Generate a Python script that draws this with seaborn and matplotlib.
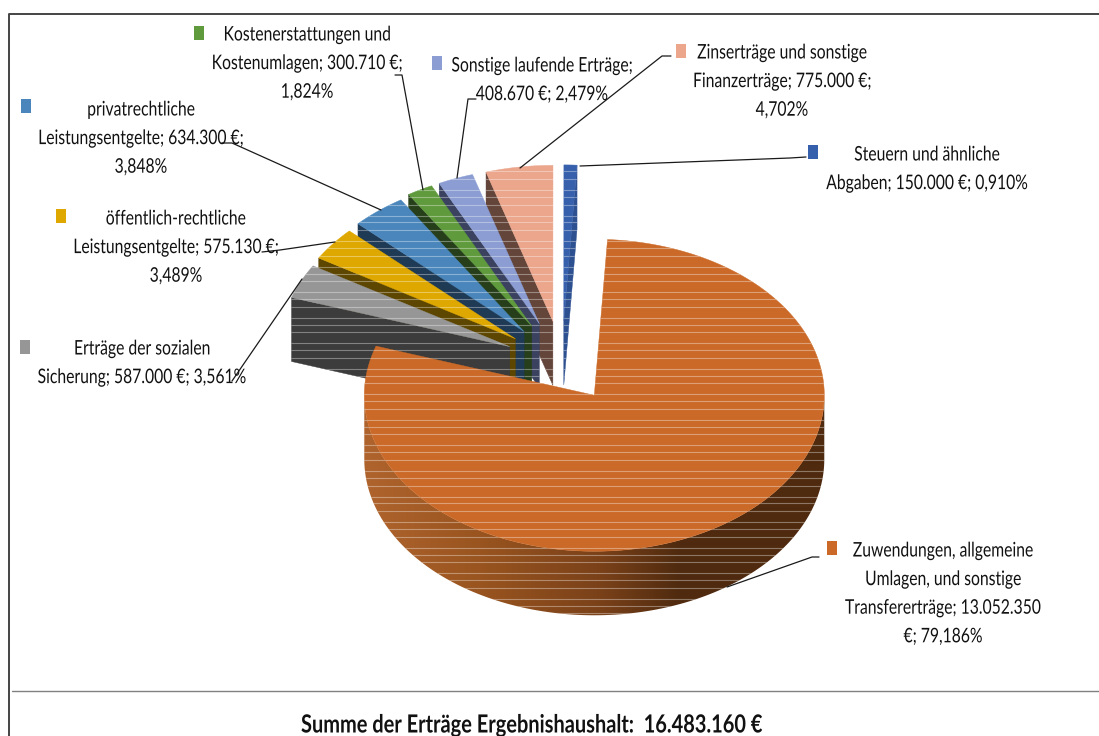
import numpy as np
import pandas as pd
import matplotlib
matplotlib.use("Agg")
import matplotlib.pyplot as plt
from matplotlib.patches import Polygon
from matplotlib.colors import to_rgb
from matplotlib.patheffects import AbstractPathEffect
from matplotlib.transforms import Affine2D
import seaborn as sns

# ---- data (clockwise from the big slice, as in the chart) ----
names = ["Zuwendungen", "Soziale Sicherung", "Oeffentlich-rechtlich", "Privatrechtlich",
         "Kostenerstattungen", "Sonstige", "Zinsertraege", "Steuern"]
values = [13052350, 587000, 575130, 634300, 300710, 408670, 775000, 150000]
top_colors = ["#CB6A28", "#969696", "#DFA800", "#4A86BC", "#5F9A3D", "#8B9DD3", "#EBA68C", "#3660AC"]
side_colors = ["#7a4119", "#3c3c3c", "#5d4600", "#1f3a55", "#263f1a", "#3a4260", "#63453a", "#2d5090"]
explode = [0.25, 0.25, 0.255, 0.26, 0.27, 0.27, 0.27, 0.27]

label_lines = [
    ["Zuwendungen, allgemeine", "Umlagen, und sonstige", "Transfererträge; 13.052.350", "€; 79,186%"],
    ["Erträge der sozialen", "Sicherung; 587.000 €; 3,561%"],
    ["öffentlich-rechtliche", "Leistungsentgelte; 575.130 €;", "3,489%"],
    ["privatrechtliche", "Leistungsentgelte; 634.300 €;", "3,848%"],
    ["Kostenerstattungen und", "Kostenumlagen; 300.710 €;", "1,824%"],
    ["Sonstige laufende Erträge;", "408.670 €; 2,479%"],
    ["Zinserträge und sonstige", "Finanzerträge; 775.000 €;", "4,702%"],
    ["Steuern und ähnliche", "Abgaben; 150.000 €; 0,910%"],
]
title_text = "Summe der Erträge Ergebnishaushalt:  16.483.160 €"

# ---- layout (pixel-based axes) ----
W, H = 1099, 736
cx, cy, rx, ry, depth = 562.0, 363.0, 230.0, 156.0, 64.0
first_angle = 3.3
label_center = [943, 142, 176, 141, 307, 542, 782, 927]
label_top = [551, 349, 219, 110, 35, 66, 53, 155]
line_step = 28.6
key_pos = [(832, 548), (25, 347), (61, 216), (26, 106), (199, 33), (437, 63), (681, 51), (813, 152)]
leaders = [
    [(819, 557), (812, 557), (727, 587)],
    [(232, 381), (302, 279)],
    [(262, 252), (280, 250), (335, 242)],
    [(222, 143), (232, 143), (381, 210)],
    [(395, 75), (402, 75), (423, 190)],
    [(476, 99), (468, 99), (457, 178)],
    [(671, 56), (662, 56), (520, 168)],
    [(806, 157), (790, 158), (580, 166)],
]
wall_x = [363, 480, 600, 680, 825]
wall_c = ["#b0642d", "#99541f", "#7a4119", "#4f2a0f", "#4f2a0f"]
key_shape = [(-0.36, -0.5), (0.36, -0.5), (0.36, 0.5), (-0.36, 0.5)]


class Squeeze(AbstractPathEffect):
    """Narrows a text horizontally about its own middle (the source font is condensed)."""

    def __init__(self, factor):
        super().__init__()
        self.factor = factor

    def draw_path(self, renderer, gc, tpath, affine, rgbFace=None):
        ext = tpath.get_extents()
        mid = (ext.x0 + ext.x1) / 2
        squeeze = Affine2D().translate(-mid, 0).scale(self.factor, 1).translate(mid, 0)
        renderer.draw_path(gc, tpath, squeeze + affine, rgbFace)


sns.set_theme(style="white")
plt.rcParams["font.family"] = ["Lato", "DejaVu Sans"]
fig = plt.figure(figsize=(W / 100, H / 100), dpi=100)
ax = fig.add_axes([0, 0, 1, 1])
ax.set_xlim(0, W)
ax.set_ylim(H, 0)
ax.set_axis_off()

stripe_y = np.sort(np.concatenate([np.arange(16.0, 640, 25.55) + o for o in (2.0, 9.7, 20.7)]))


def stripes(patch):
    lines = ax.hlines(stripe_y, 0, W, colors="white", alpha=0.36, lw=0.8, zorder=patch.get_zorder() + 0.01)
    lines.set_clip_path(patch)


def add_poly(pts, color, z, lw=0.3):
    p = Polygon(pts, closed=True, facecolor=color, edgecolor=color, lw=lw, zorder=z)
    ax.add_patch(p)
    return p


def on_rim(ox, oy, deg):
    t = np.radians(deg)
    return ox + rx * np.sin(t), oy - ry * np.cos(t)


share = np.array(values) / np.sum(values) * 360
starts = first_angle + np.concatenate([[0], np.cumsum(share)[:-1]])
ends = starts + share

# paint far slices first, the big slice last
order = [7, 6, 5, 4, 3, 2, 1, 0]
z = 2.0
for i in order:
    mid = np.radians((starts[i] + ends[i]) / 2)
    ox = cx + explode[i] * rx * np.sin(mid)
    oy = cy - explode[i] * ry * np.cos(mid)
    # radial side faces
    for ang, nrm in ((starts[i], starts[i] - 90), (ends[i], ends[i] + 90)):
        if np.cos(np.radians(nrm)) < -0.001:
            px, py = on_rim(ox, oy, ang)
            f = add_poly([(ox, oy), (px, py), (px, py + depth), (ox, oy + depth)], side_colors[i], z)
            stripes(f)
            z += 0.1
    # outer wall on the front half
    a0, a1 = max(starts[i], 90), min(ends[i], 270)
    if a1 > a0:
        angs = np.linspace(a0, a1, 181)
        xs, ys = on_rim(ox, oy, angs)
        rgb = np.array([to_rgb(c) for c in wall_c])
        outline = Polygon(np.r_[np.c_[xs, ys], np.c_[xs[::-1], ys[::-1] + depth]], closed=True,
                          fill=False, lw=0, zorder=z)
        ax.add_patch(outline)
        grad = np.stack([np.interp(np.arange(0, W), wall_x, rgb[:, c]) for c in range(3)], axis=-1)[None, :, :]
        im = ax.imshow(grad, extent=(0, W, H, 0), aspect="auto", zorder=z, interpolation="bilinear")
        im.set_clip_path(outline)
        ax.set_xlim(0, W)
        ax.set_ylim(H, 0)
        stripes(outline)
        z += 0.1
    # top surface
    angs = np.linspace(starts[i], ends[i], max(int(share[i] * 2), 8))
    xs, ys = on_rim(ox, oy, angs)
    top = add_poly(np.r_[[(ox, oy)], np.c_[xs, ys]], top_colors[i], z)
    stripes(top)
    z += 0.1

# frame and separator
frame = pd.DataFrame({"x": [9, 9, W], "y": [H, 13.5, 13.5]})
sns.lineplot(data=frame, x="x", y="y", sort=False, estimator=None, color="#444444", lw=1.4, ax=ax, zorder=20)
sep = pd.DataFrame({"x": [12, W], "y": [691, 691]})
sns.lineplot(data=sep, x="x", y="y", sort=False, estimator=None, color="#808080", lw=1.0, ax=ax, zorder=20)

# leaders
for n, pts in enumerate(leaders):
    d = pd.DataFrame(pts, columns=["x", "y"])
    sns.lineplot(data=d, x="x", y="y", sort=False, estimator=None, color="#1a1a1a", lw=0.9, ax=ax, zorder=21)

# legend keys
keys = pd.DataFrame({"x": [p[0] for p in key_pos], "y": [p[1] for p in key_pos], "name": names})
sns.scatterplot(data=keys, x="x", y="y", hue="name", hue_order=names, palette=top_colors, marker=key_shape,
                s=88, linewidth=0, legend=False, ax=ax, zorder=22)

# labels
for i, lines in enumerate(label_lines):
    for j, t in enumerate(lines):
        ax.text(label_center[i], label_top[i] + j * line_step, t, ha="center", va="center",
                fontsize=14.5, color="#111111", zorder=23, path_effects=[Squeeze(0.78)])

ax.text(532, 725, title_text, ha="center", va="center", fontsize=18, fontweight="bold",
        color="#111111", zorder=23, path_effects=[Squeeze(0.8)])

ax.set_xlim(0, W)
ax.set_ylim(H, 0)
ax.set_xlabel("")
ax.set_ylabel("")
fig.savefig("out.png", dpi=100, facecolor="white")
